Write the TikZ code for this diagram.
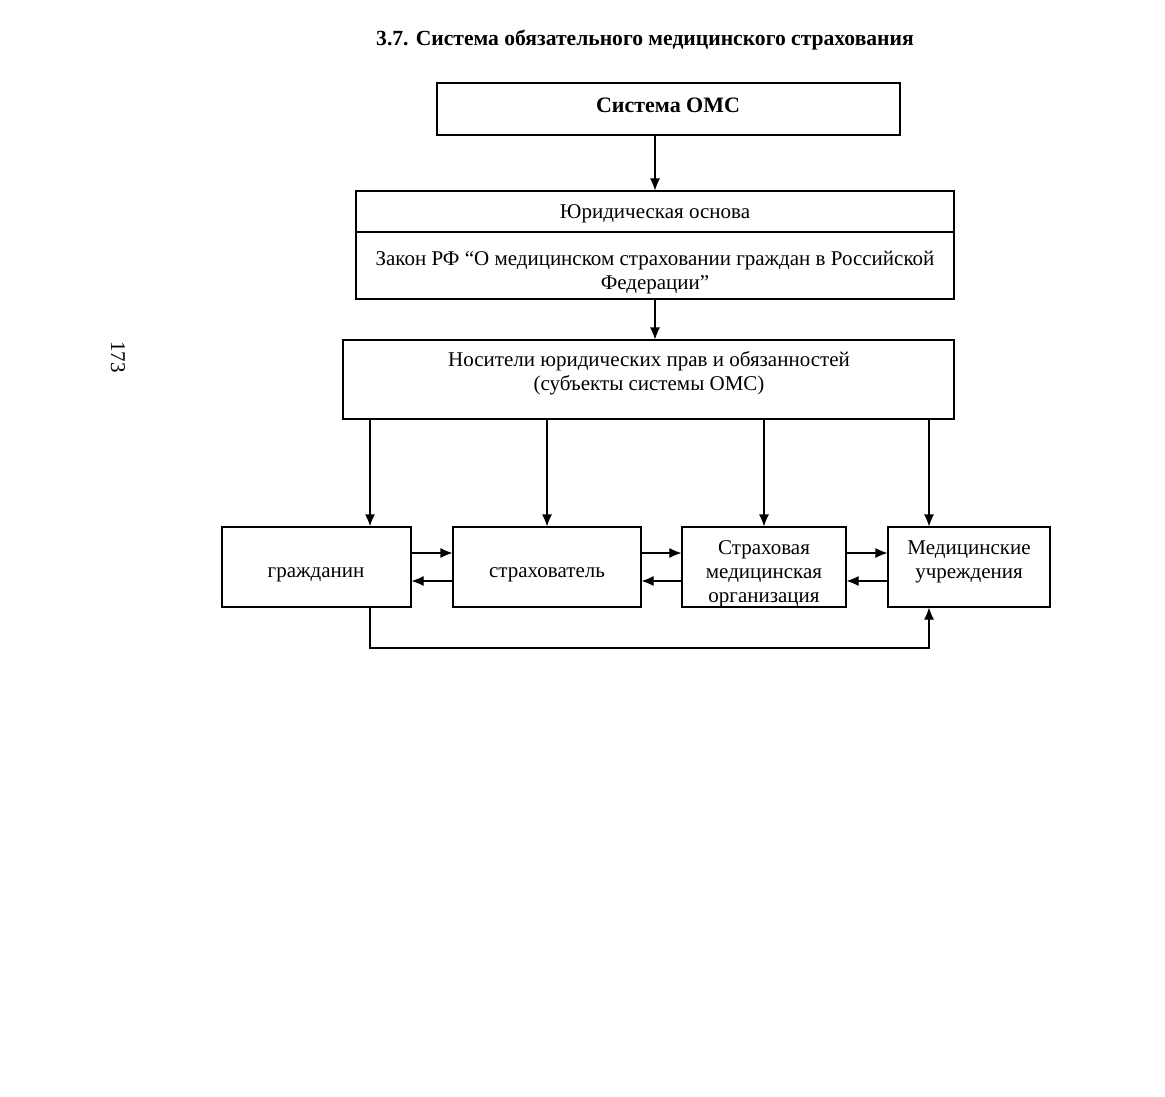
\documentclass[tikz,border=0pt]{standalone}
\usepackage{fontspec}
\setmainfont{Liberation Serif}
\usetikzlibrary{arrows.meta,calc}
\tikzset{
  box/.style={draw, line width=0.55pt, inner sep=0pt},
  arr/.style={line width=0.55pt, -{Latex[length=6pt,width=5pt]}},
  lbl/.style={inner sep=0pt, align=center, font=\fontsize{10.5}{12}\selectfont}
}
\begin{document}
\begin{tikzpicture}[x=0.5pt,y=-0.5pt]
\fill[white] (0,0) rectangle (1165,1096);
\useasboundingbox (0,0) rectangle (1165,1096);
% title
\node[lbl, font=\bfseries\fontsize{10.8}{12}\selectfont] (title) at (645,40) {3.7. Система обязательного медицинского страхования};
% page number
\node[lbl, rotate=-90, font=\fontsize{10.5}{12}\selectfont] (pg) at (118,357) {173};
% boxes
\node[box, minimum width=231.5pt, minimum height=26pt] (oms) at (668.5,109) {};
\node[lbl, font=\bfseries\fontsize{11}{12}\selectfont] (omst) at (668,105) {Система ОМС};
\node[box, minimum width=299pt, minimum height=20.5pt] (jurA) at (655,211.5) {};
\node[lbl] (jurAt) at (655,214) {Юридическая основа};
\node[box, minimum width=299pt, minimum height=33.5pt] (jurB) at (655,265.5) {};
\node[lbl] (jurBt) at (655,273) {Закон РФ “О медицинском страховании граждан в Российской\\Федерации”};
\node[box, minimum width=305.5pt, minimum height=39.5pt] (nos) at (648.5,379.5) {};
\node[lbl] (nost) at (649,373) {Носители юридических прав и обязанностей\\(субъекты системы ОМС)};
\node[box, minimum width=94.5pt, minimum height=40pt] (g) at (316.5,567) {};
\node[lbl] (gt) at (316,575) {гражданин};
\node[box, minimum width=94pt, minimum height=40pt] (s) at (547,567) {};
\node[lbl] (st) at (547,575) {страхователь};
\node[box, minimum width=82pt, minimum height=40pt] (smo) at (764,567) {};
\node[lbl] (smot) at (764,574) {Страховая\\медицинская\\организация};
\node[box, minimum width=81pt, minimum height=40pt] (med) at (969,567) {};
\node[lbl] (medt) at (969,562) {Медицинские\\учреждения};
% vertical arrows
\draw[arr] (oms.south -| 655,0) -- (jurA.north -| 655,0);
\draw[arr] (jurB.south -| 655,0) -- (nos.north -| 655,0);
\draw[arr, line width=1pt] (nos.south -| 370,0) -- (g.north -| 370,0);
\draw[arr] (nos.south -| 547,0) -- (s.north -| 547,0);
\draw[arr] (nos.south -| 764,0) -- (smo.north -| 764,0);
\draw[arr] (nos.south -| 929,0) -- (med.north -| 929,0);
% horizontal arrows
\draw[arr] (g.east |- 0,553) -- (s.west |- 0,553);
\draw[arr] (s.west |- 0,581) -- (g.east |- 0,581);
\draw[arr] (s.east |- 0,553) -- (smo.west |- 0,553);
\draw[arr] (smo.west |- 0,581) -- (s.east |- 0,581);
\draw[arr] (smo.east |- 0,553) -- (med.west |- 0,553);
\draw[arr] (med.west |- 0,581) -- (smo.east |- 0,581);
% bottom connector
\coordinate (b1) at (370,648);
\coordinate (b2) at (929,648);
\draw[arr] (g.south -| b1) -- (b1) -- (b2) -- (med.south -| b2);
\end{tikzpicture}
\end{document}
